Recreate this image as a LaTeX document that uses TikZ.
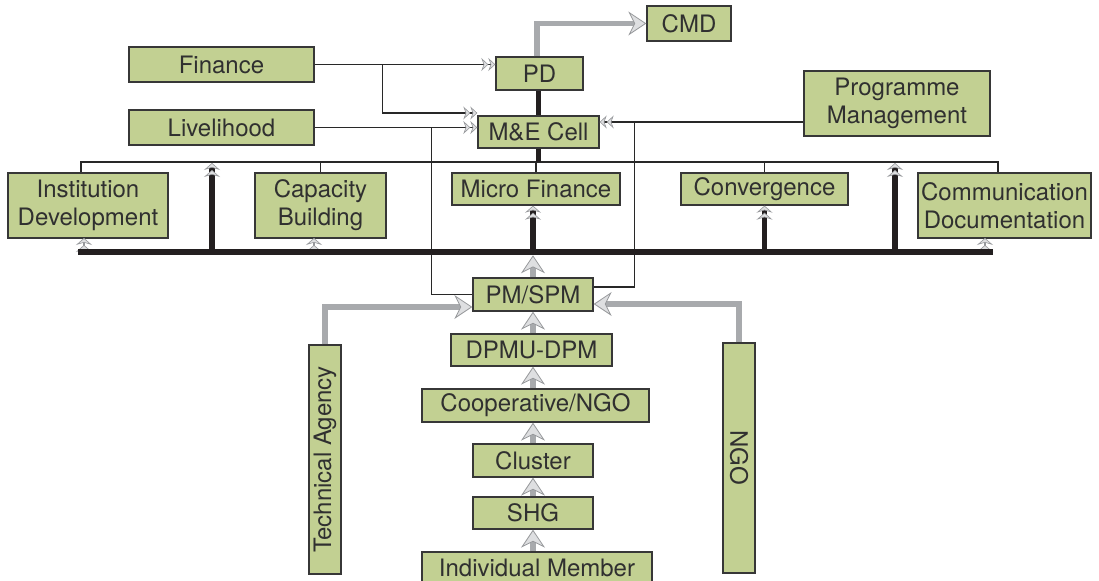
\documentclass[tikz,border=0pt]{standalone}
\usepackage{fontspec}
\setmainfont{TeX Gyre Heros}
\usetikzlibrary{arrows.meta}

\definecolor{boxgreen}{RGB}{194,208,146}
\definecolor{boxedge}{RGB}{55,55,55}
\definecolor{inkgray}{RGB}{40,40,40}
\definecolor{textgray}{RGB}{48,48,48}
\definecolor{feedgray}{RGB}{168,170,173}
\definecolor{tipfill}{RGB}{222,223,225}
\definecolor{tipedge}{RGB}{150,152,155}
\definecolor{busblack}{RGB}{35,31,32}

\tikzset{
  unit/.style={draw=boxedge, fill=boxgreen, line width=0.7pt, text=textgray, align=center,
    inner sep=0pt, font=\fontsize{12}{14}\selectfont},
  link/.style={draw=inkgray, line width=0.6pt},
  bus/.style={draw=busblack, line width=2.6pt},
  feed/.style={draw=feedgray, line width=2.6pt},
  smalltip/.style={-{Stealth[length=3.5pt,width=6.5pt,inset=1.2pt,fill=tipfill,color=tipedge,line width=0.3pt]
    Stealth[length=3.5pt,width=6.5pt,inset=1.2pt,fill=tipfill,color=tipedge,line width=0.3pt]}},
  bustip/.style={-{Stealth[length=3.5pt,width=8pt,inset=1.2pt,fill=tipfill,color=tipedge,line width=0.3pt]
    Stealth[length=3.5pt,width=8pt,inset=1.2pt,fill=tipfill,color=tipedge,line width=0.3pt]}},
  bigtip/.style={-{Stealth[length=9pt,width=12pt,inset=3pt,fill=tipfill,color=tipedge,line width=0.4pt]}}
}

\begin{document}
\begin{tikzpicture}[x=0.5pt,y=-0.5pt]
\useasboundingbox (0,0) rectangle (1099,581);

% head office
\node[unit, minimum width=42pt, minimum height=17.5pt] (cmd) at (689,23.5) {CMD};
\node[unit, minimum width=43.5pt, minimum height=16.5pt] (pd) at (539.5,73.5) {PD};
\node[unit, minimum width=92.5pt, minimum height=17.5pt] (fin) at (221.5,64.5) {Finance};
\node[unit, minimum width=92.5pt, minimum height=17.5pt] (liv) at (221.5,127.5) {Livelihood};
\node[unit, minimum width=60.5pt, minimum height=16pt] (me) at (538.5,132) {M\&E Cell};
\node[unit, minimum width=93pt, minimum height=32.5pt] (prog) at (897,103.5) {Programme\\Management};

% thematic units
\node[unit, minimum width=80pt, minimum height=32.5pt] (inst) at (88,205.5) {Institution\\Development};
\node[unit, minimum width=65.5pt, minimum height=32.5pt] (cap) at (320.5,205.5) {Capacity\\Building};
\node[unit, minimum width=84pt, minimum height=16pt] (mf) at (536,189) {Micro Finance};
\node[unit, minimum width=83.5pt, minimum height=16pt] (conv) at (764.5,189) {Convergence};
\node[unit, minimum width=86.5pt, minimum height=32.5pt] (comm) at (1004.5,205.5) {Communication\\Documentation};

% field chain
\node[unit, minimum width=60pt, minimum height=16.5pt] (pm) at (533,294.5) {PM/SPM};
\node[unit, minimum width=80.5pt, minimum height=16pt] (dpmu) at (531.5,350) {DPMU-DPM};
\node[unit, minimum width=113.5pt, minimum height=16.5pt] (coop) at (535.5,405.5) {Cooperative/NGO};
\node[unit, minimum width=60pt, minimum height=16.5pt] (clu) at (533,460.5) {Cluster};
\node[unit, minimum width=60pt, minimum height=16pt] (shg) at (533,513) {SHG};
\node[unit, minimum width=115pt, minimum height=16pt] (ind) at (537,568) {Individual Member};
\node[unit, rotate=90, minimum width=114.5pt, minimum height=16pt] (ta) at (325,459.5) {Technical Agency};
\node[unit, rotate=-90, minimum width=115pt, minimum height=16pt] (ngo) at (739,458) {NGO};

\coordinate (railL) at (81,162);
\coordinate (railR) at (998,162);
\coordinate (busL) at (78,252);
\coordinate (busR) at (993,252);
\coordinate (upA) at (212,163);
\coordinate (upB) at (895,163);
\coordinate (stubA) at (84,238);
\coordinate (stubB) at (314,238);
\coordinate (stubC) at (985,238);

% grey feeds
\draw[feed,bigtip] ([xshift=-1.25pt]pd.north) |- (cmd.west);
\draw[feed,bigtip] (pm.south |- dpmu.north) -- (pm.south);
\draw[feed,bigtip] (pm.south |- coop.north) -- (pm.south |- dpmu.south);
\draw[feed,bigtip] (pm.south |- clu.north) -- (pm.south |- coop.south);
\draw[feed,bigtip] (shg.north) -- (clu.south);
\draw[feed,bigtip] (pm.south |- ind.north) -- (shg.south);
\draw[feed,bigtip] (ta.east) |- ([yshift=-6.25pt]pm.west);
\draw[feed,bigtip] (ngo.west) |- ([yshift=-4.75pt]pm.east);
\draw[feed,bigtip] (pm.north) -- ([yshift=11pt]pm.north);

% thin links
\draw[link,smalltip] (fin.east) -- (fin.east -| pd.west);
\draw[link,smalltip] ([xshift=34pt]fin.east) |- ([yshift=9.5pt]me.west);
\draw[link,smalltip] (liv.east) -- (liv.east -| me.west);
\draw[link] ([xshift=58.5pt]liv.east) |- (pm.west);
\draw[link,smalltip] ([yshift=-9.25pt]prog.west) -- ([yshift=-9.25pt]prog.west -| me.east);
\draw[link] ([xshift=-84.5pt,yshift=-9.25pt]prog.west) |- ([yshift=3.75pt]pm.east);

\draw[link] (railL |- inst.north) -- (railL) -- (railR) -- (railR |- comm.north);
\draw[link] (cap.north) -- (cap.north |- railL);
\draw[link] (mf.north) -- (mf.north |- railL);
\draw[link] (conv.north) -- (conv.north |- railL);

% black bus
\draw[link,draw=tipedge,bustip] (stubA |- busL) -- (stubA);
\draw[link,draw=tipedge,bustip] (stubB |- busL) -- (stubB);
\draw[link,draw=tipedge,bustip] (stubC |- busL) -- (stubC);
\draw[bus] (me.north |- pd.south) -- (me.north);
\draw[bus] (me.south) -- (me.south |- railL);
\draw[bus] (busL) -- (busR);
\draw[bus,bustip] (upA |- busL) -- (upA);
\draw[bus,bustip] (upB |- busL) -- (upB);
\draw[bus,bustip] (pm.north |- busL) -- (pm.north |- mf.south);
\draw[bus,bustip] (conv.south |- busL) -- (conv.south);

\end{tikzpicture}
\end{document}
